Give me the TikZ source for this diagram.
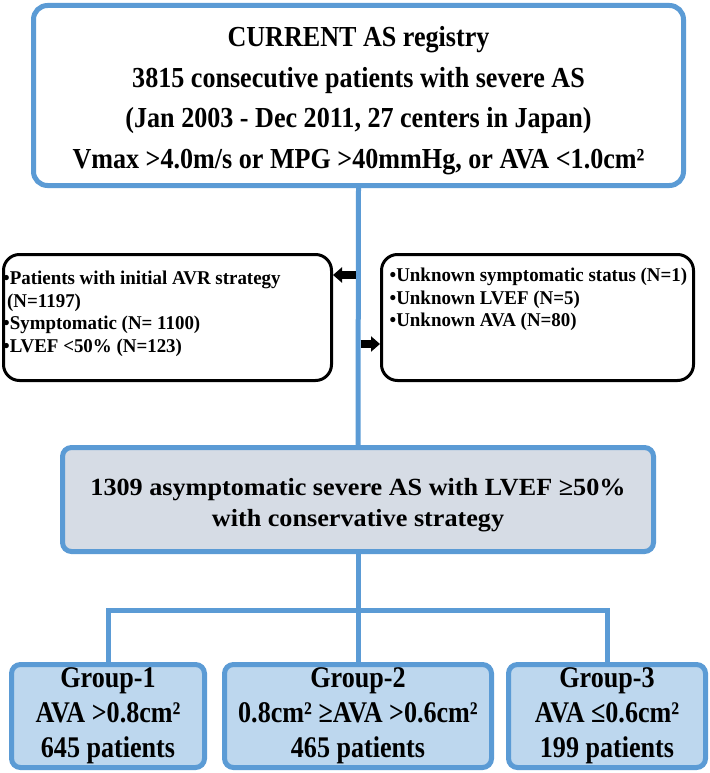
\documentclass[tikz,border=0pt]{standalone}
\usepackage{fontspec}
\setmainfont{Liberation Serif}
% the figure uses slightly stretched or squeezed Times in each kind of box
\newfontfamily\regfont[FakeStretch=0.9]{Liberation Serif}
\newfontfamily\midfont[FakeStretch=1.06]{Liberation Serif}
\newfontfamily\sidefont[FakeStretch=0.97]{Liberation Serif}
\newfontfamily\groupfont[FakeStretch=0.87]{Liberation Serif}
\usepackage{tikz}
\usetikzlibrary{positioning}
\usetikzlibrary{calc,arrows.meta}

\definecolor{asblue}{HTML}{5B9BD5}
\definecolor{asgrey}{HTML}{D6DCE5}
\definecolor{asgroup}{HTML}{BDD7EE}

\begin{document}
\begin{tikzpicture}[x=1pt, y=-1pt,
	regbox/.style={draw=asblue, line width=5pt, fill=white, rounded corners=14pt,
		minimum width=650pt, minimum height=180pt},
	regtext/.style={inner sep=0pt, align=center,
		font=\regfont\fontsize{29}{40.5}\selectfont\bfseries},
	sidebox/.style={draw=black, line width=3pt, fill=white, rounded corners=16pt,
		minimum height=126pt},
	sidetext/.style={inner sep=0pt, anchor=north west, align=left,
		font=\sidefont\fontsize{19.5}{22.5}\selectfont\bfseries},
	midbox/.style={draw=asblue, line width=5pt, fill=asgrey, rounded corners=9pt,
		minimum width=591pt, minimum height=104pt},
	midtext/.style={inner sep=0pt, align=center,
		font=\midfont\fontsize{24.7}{31}\selectfont\bfseries},
	groupbox/.style={draw=asblue, line width=5pt, fill=asgroup, rounded corners=9pt,
		minimum height=103pt, align=center,
		font=\groupfont\fontsize{30}{35}\selectfont\bfseries},
	link/.style={draw=asblue, line width=5pt},
	pointer/.style={draw=black, line width=8pt, -{Triangle[length=9pt,width=15pt]}}]

	% page is 709 x 773, coordinates are given in pixels from the top left corner
	\useasboundingbox (0,0) rectangle (709,773);

	% registry
	\node[regbox] (R) at (358.5,95.5) {};
	\node[regtext] (Rt) at ([yshift=-5pt]R.center) {CURRENT AS registry\\
		3815 consecutive patients with severe AS\\
		(Jan 2003 - Dec 2011, 27 centers in Japan)\\
		Vmax >4.0m/s or MPG >40mmHg, or AVA <1.0cm²};

	% excluded patients, left and right of the main line
	\node[sidebox, minimum width=328pt] (E1) at (167.5,317.5) {};
	\node[sidebox, minimum width=312pt] (E2) at (537.5,317.5) {};

	\node[sidetext] (E1t) at ([shift={(1,18)}]E1.north west) {•Patients with initial AVR strategy\\
		\hspace{4pt}(N=1197)\\
		•Symptomatic (N= 1100)\\
		•LVEF <50\% (N=123)};
	\node[sidetext] (E2t) at ([shift={(9.5,15)}]E2.north west) {•Unknown symptomatic status (N=1)\\
		•Unknown LVEF (N=5)\\
		•Unknown AVA (N=80)};

	% study population
	\node[midbox] (M) at (358,499.5) {};
	\node[midtext] (Mt) at ([yshift=-6pt]M.center) {1309 asymptomatic severe AS with LVEF ≥50\%\\
		with conservative strategy};

	% the three AVA groups
	\node[groupbox, minimum width=193pt] (G1) at (108,716) {Group-1\\AVA >0.8cm²\\645 patients};
	\node[groupbox, minimum width=267pt] (G2) at (358,716) {Group-2\\0.8cm² ≥AVA >0.6cm²\\465 patients};
	\node[groupbox, minimum width=197pt] (G3) at (607,716) {Group-3\\AVA ≤0.6cm²\\199 patients};

	%%%%%%%%%%%%%%%%%%%%%%%%%%%%%%%%%%%%%%%%%%%%%%%%%%%%%%%%%%%%%%
	\coordinate (A1) at (355.5,275);
	\coordinate (A2) at (360.5,344);
	\coordinate (J) at (358,610);

	\draw[link] (R.south) -- (M.north);
	\draw[pointer] (A1) -- (A1 -| E1.east);
	\draw[pointer] (A2) -- (A2 -| E2.west);

	\draw[link] (M.south) -- (J);
	\draw[link] (G1.north) |- (J) -| (G3.north);
	\draw[link] (J) -- (G2.north);

\end{tikzpicture}
\end{document}
